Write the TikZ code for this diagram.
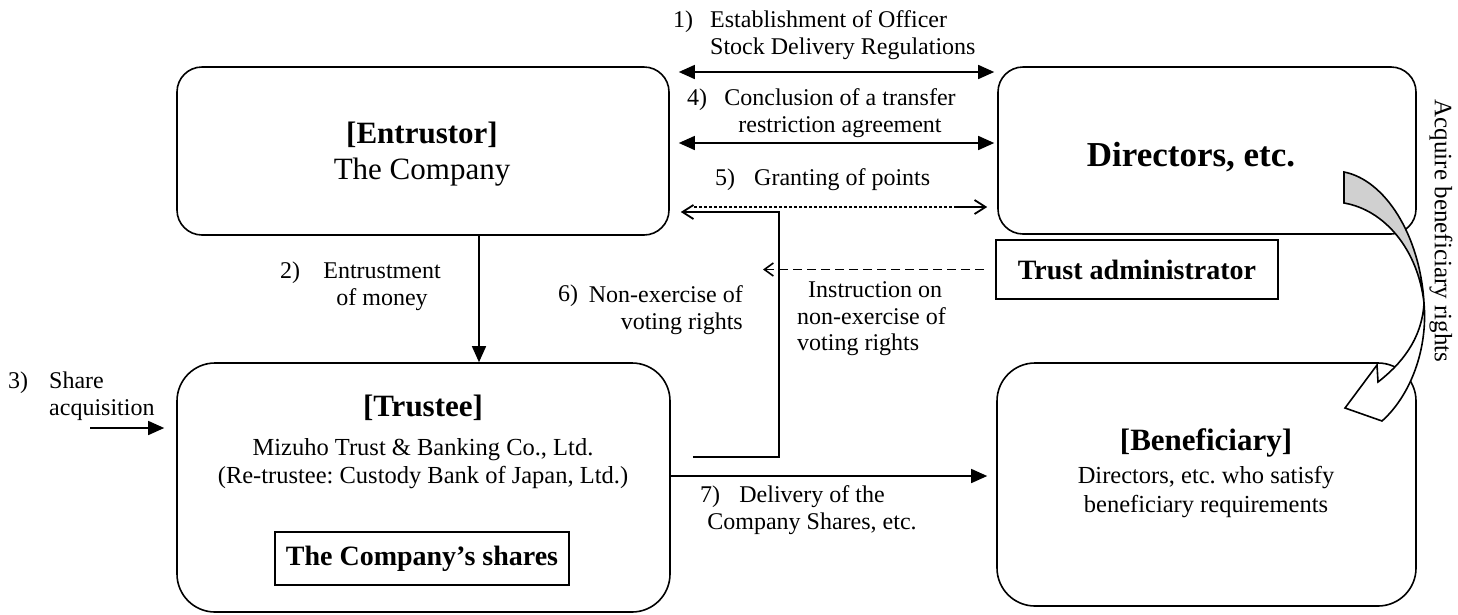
\documentclass[tikz,border=0pt]{standalone}
\usepackage{fontspec}
\setmainfont{Liberation Serif}
\usetikzlibrary{arrows.meta}
\frenchspacing

\begin{document}
\begin{tikzpicture}[x=1pt,y=-1pt,
  bigbox/.style={draw, line width=1.6pt, inner sep=0pt, rounded corners=25pt},
  bigboxb/.style={draw, line width=1.6pt, inner sep=0pt, rounded corners=38pt},
  plainbox/.style={draw, line width=1.6pt, inner sep=0pt, font=\fontsize{28}{30}\selectfont\bfseries},
  head/.style={inner sep=0pt, font=\fontsize{31}{34}\selectfont\bfseries},
  big/.style={inner sep=0pt, font=\fontsize{31}{34}\selectfont},
  mid/.style={inner sep=0pt, font=\fontsize{24.5}{27}\selectfont},
  lbl/.style={inner sep=0pt, font=\fontsize{24}{26.5}\selectfont},
  conn/.style={line width=1.5pt},
  solidhead/.style={-{Triangle[length=16pt,width=14pt]}},
  bothheads/.style={{Triangle[length=16pt,width=14pt]}-{Triangle[length=16pt,width=14pt]}},
  barb/.style={-{Straight Barb[length=11pt,width=14pt,line width=1.8pt]}},
]
\useasboundingbox (0,0) rectangle (1458,614);

% ---- parties ----
\node[bigbox, minimum width=492pt, minimum height=168pt] (entrustor) at (423,151) {};
\node[bigbox, minimum width=418pt, minimum height=167pt] (directors) at (1207,150.5) {};
\node[bigboxb, minimum width=493pt, minimum height=249pt] (trustee) at (423.5,487.5) {};
\node[bigboxb, minimum width=419pt, minimum height=243pt] (beneficiary) at (1206.5,484.5) {};
\node[plainbox, minimum width=282pt, minimum height=59pt] (admin) at (1137,269.5) {Trust administrator};
\node[plainbox, minimum width=294pt, minimum height=53pt] (shares) at (422,558.5) {The Company’s shares};

% ---- texts inside the parties ----
\node[head] (entrustorhead) at (422,135) {[Entrustor]};
\node[big] (entrustorname) at (422,172) {The Company};
\node[head, font=\fontsize{35}{37}\selectfont\bfseries] (directorsname) at (1191,157) {Directors, etc.};
\node[head] (trusteehead) at (423,408) {[Trustee]};
\node[mid] (trusteename) at (423,450) {Mizuho Trust \& Banking Co., Ltd.};
\node[mid] (retrustee) at (423,478) {(Re-trustee: Custody Bank of Japan, Ltd.)};
\node[head] (benefhead) at (1206,443) {[Beneficiary]};
\node[mid, align=center, font=\fontsize{24.5}{29}\selectfont] (benefname) at (1206,492.5) {Directors, etc. who satisfy\\beneficiary requirements};

% ---- helper points ----
\coordinate (share3) at (90,428);
\coordinate (riser) at (757,330);

% ---- connectors ----
\draw[conn, bothheads] ([xshift=9pt,yshift=79pt]entrustor.east) -- ([xshift=-3pt,yshift=78.5pt]directors.west);
\draw[conn, bothheads] ([xshift=9pt,yshift=8pt]entrustor.east) -- ([xshift=-3pt,yshift=7.5pt]directors.west);
\draw[line width=2.6pt, dash pattern=on 3pt off 2pt] ([xshift=24pt,yshift=-56pt]entrustor.east) -- ([xshift=-12pt,yshift=-56.5pt]directors.west);
\draw[conn, barb] ([xshift=-40pt,yshift=-56.5pt]directors.west) -- ([xshift=-10pt,yshift=-56.5pt]directors.west);
\draw[conn, solidhead] ([xshift=56pt]entrustor.south) -- ([xshift=55.5pt]trustee.north);
\draw[conn, solidhead] (share3) -- ([xshift=-12pt,yshift=59.5pt]trustee.west);
\draw[conn, barb] ([xshift=22pt,yshift=30.5pt]trustee.east) -- ([xshift=22pt,yshift=30.5pt]trustee.east -| riser) |- ([xshift=11pt,yshift=-61pt]entrustor.east);
\draw[line width=1.8pt, dash pattern=on 9pt off 5pt, -{Straight Barb[length=9pt,width=13pt,line width=1.6pt]}] ([xshift=-11pt]admin.west) -- ([xshift=6pt]riser |- admin.west);
\draw[conn, solidhead] ([yshift=11.5pt]trustee.east) -- ([xshift=-9pt,yshift=8.5pt]beneficiary.west);

% ---- connector labels ----
\node[lbl, anchor=west] (n1) at (673,22) {1)};
\node[lbl, anchor=west, align=left] (t1) at (710,35) {Establishment of Officer\\Stock Delivery Regulations};
\node[lbl, anchor=west] (n4) at (687,100) {4)};
\node[lbl, align=center] (t4) at (840,113) {Conclusion of a transfer\\restriction agreement};
\node[lbl, anchor=west] (n5) at (715,180) {5)};
\node[lbl, anchor=west] (t5) at (754,180) {Granting of points};
\node[lbl, anchor=west] (n2) at (280,273) {2)};
\node[lbl, align=center] (t2) at (382,286.5) {Entrustment\\of money};
\node[lbl, anchor=west] (n3) at (8,383) {3)};
\node[lbl, anchor=west, align=left] (t3) at (49,396) {Share\\acquisition};
\node[lbl, anchor=east, align=right] (t6) at (743,310) {Non-exercise of\\voting rights};
\node[lbl, anchor=west] (n6) at (558,296) {6)};
\node[lbl, anchor=west, align=left] (t8) at (797,319) {\hspace*{11pt}Instruction on\\non-exercise of\\voting rights};
\node[lbl, anchor=west] (n7) at (700,497) {7)};
\node[lbl, align=center] (t7) at (812,510) {Delivery of the\\Company Shares, etc.};

% ---- curved arrow: acquisition of beneficiary rights ----
\draw[line width=1.6pt, fill=white, line join=miter]
  (1424,303) .. controls (1422,340) and (1400,365) .. (1378,382)
  -- (1377,365) -- (1345,408) -- (1382,421)
  .. controls (1410,396) and (1428,350) .. (1424,303) -- cycle;
\draw[line width=1.6pt, fill={rgb,255:red,208;green,208;blue,208}]
  (1344,172) .. controls (1385,180) and (1420,235) .. (1424,303)
  .. controls (1418,250) and (1385,210) .. (1344,203) -- cycle;
\node[lbl, rotate=-90, font=\fontsize{25}{27}\selectfont] (acq) at (1441,231) {Acquire beneficiary rights};
\end{tikzpicture}
\end{document}
